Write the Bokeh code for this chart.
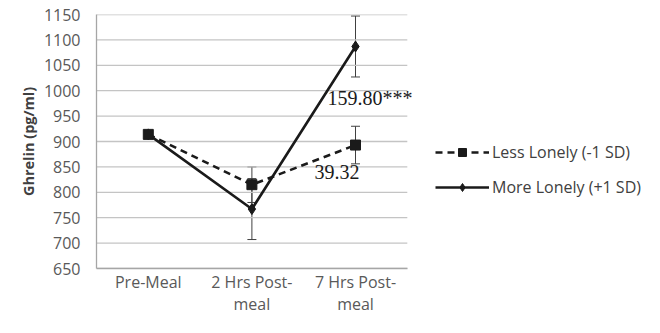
from bokeh.plotting import figure
from bokeh.models import (ColumnDataSource, Range1d, FixedTicker, Whisker, Legend,
                          LegendItem)
from bokeh.core.properties import value
from bokeh.embed import file_html
from bokeh.resources import INLINE

categories = ["Pre-Meal", "2 Hrs Post-\nmeal", "7 Hrs Post-\nmeal"]
less_lonely = [914, 815, 893]
less_err = [0, 35, 37]
more_lonely = [914, 767, 1087]
more_err = [0, 60, 60]
y_ticks = [650, 700, 750, 800, 850, 900, 950, 1000, 1050, 1100, 1150]
ann_labels = ["159.80***", "39.32"]
ann_cat = [2, 2]
ann_y = [985, 839]
ann_dx = [-28, -41]

FONT = "Open Sans"
INK = "#1a1a1a"
GRID = "#c4c4c4"

W, H = 644, 317
LEFT, TOP, BOTTOM = 96, 14, 46
n = len(categories)
xpos = list(range(n))
cat_px = 103.6                      # pixel width of one category slot
x_end = -0.5 + (W - LEFT) / cat_px  # frame extends to the right to hold the legend

p = figure(width=W, height=H, x_range=Range1d(-0.5, x_end),
           y_range=Range1d(y_ticks[0], y_ticks[-1]), output_backend="svg",
           toolbar_location=None, min_border_left=LEFT, min_border_right=0,
           min_border_top=TOP, min_border_bottom=BOTTOM)
p.outline_line_color = None
p.background_fill_color = "white"
p.xgrid.grid_line_color = None
p.ygrid.grid_line_color = None

# horizontal gridlines limited to the category area
p.segment(x0=[-0.5] * len(y_ticks), x1=[n - 0.5] * len(y_ticks),
          y0=y_ticks, y1=y_ticks, line_color=GRID, line_width=1.3)

p.yaxis.ticker = FixedTicker(ticks=y_ticks)
p.xaxis.ticker = FixedTicker(ticks=xpos)
p.xaxis.major_label_overrides = {i: c for i, c in zip(xpos, categories)}
p.xaxis.bounds = (-0.5, n - 0.5)

for ax in (p.xaxis, p.yaxis):
    ax.axis_line_color = "#a6a6a6"
    ax.axis_line_width = 1.3
    ax.major_tick_line_color = None
    ax.minor_tick_line_color = None
    ax.major_tick_out = 0
    ax.major_tick_in = 0
    ax.minor_tick_out = 0
    ax.minor_tick_in = 0
    ax.major_label_text_font = FONT
    ax.major_label_text_font_size = "16px"
    ax.major_label_text_color = "#595959"

p.yaxis.major_label_standoff = 16
p.xaxis.major_label_standoff = 2
p.xaxis.major_label_text_line_height = 1.0
p.yaxis.axis_label = "Ghrelin (pg/ml)"
p.yaxis.axis_label_text_font = FONT
p.yaxis.axis_label_text_font_style = "bold"
p.yaxis.axis_label_text_font_size = "14.5px"
p.yaxis.axis_label_text_color = "#404040"
p.yaxis.axis_label_standoff = 3

src_less = ColumnDataSource(dict(x=xpos, y=less_lonely))
src_more = ColumnDataSource(dict(x=xpos, y=more_lonely))

# error bars (skip zero-error points)
for vals, err in ((more_lonely, more_err), (less_lonely, less_err)):
    idx = [i for i, e in enumerate(err) if e > 0]
    es = ColumnDataSource(dict(x=[xpos[i] for i in idx],
                               lo=[vals[i] - err[i] for i in idx],
                               hi=[vals[i] + err[i] for i in idx]))
    w = Whisker(source=es, base="x", lower="lo", upper="hi",
                line_color="#404040", line_width=1)
    w.upper_head.size = 9
    w.lower_head.size = 9
    w.upper_head.line_color = "#404040"
    w.lower_head.line_color = "#404040"
    p.add_layout(w)

l_more = p.line("x", "y", source=src_more, line_color=INK, line_width=2.6)
m_more = p.scatter("x", "y", source=src_more, marker="diamond", size=11,
                   fill_color=INK, line_color=INK)
l_less = p.line("x", "y", source=src_less, line_color=INK, line_width=2.6,
                line_dash="7 5")
m_less = p.scatter("x", "y", source=src_less, marker="square", size=10,
                   fill_color=INK, line_color=INK)

ann_src = ColumnDataSource(dict(x=ann_cat, y=ann_y, t=ann_labels, dx=ann_dx))
p.text("x", "y", text="t", source=ann_src, x_offset="dx",
       text_font=value("Liberation Serif"), text_font_size="20px",
       text_color=INK, text_baseline="middle", text_align="left")

legend = Legend(items=[LegendItem(label="Less Lonely (-1 SD)", renderers=[l_less, m_less]),
                       LegendItem(label="More Lonely (+1 SD)", renderers=[l_more, m_more])],
                location=(339, 70), orientation="vertical",
                label_text_font=FONT, label_text_font_size="16px",
                label_text_color="#404040", glyph_width=54, glyph_height=20,
                spacing=13, padding=0, margin=0, label_standoff=3,
                border_line_color=None, background_fill_alpha=0)
p.add_layout(legend)

open("out.html", "w").write(file_html(p, INLINE))
